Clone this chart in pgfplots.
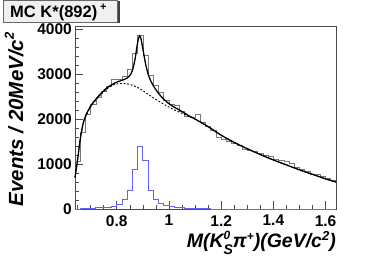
\documentclass[border=0pt]{standalone}
\usepackage{fontspec}
\setmainfont{Liberation Sans}
\usepackage{pgfplots}
\pgfplotsset{compat=1.18}
\definecolor{histblue}{RGB}{100,100,245}
\definecolor{histgray}{RGB}{120,120,120}
\begin{document}
\begin{tikzpicture}
\path[use as bounding box] (0,0) rectangle (374pt,262pt);
% title box
\fill[black!75] (4.5pt,238.5pt) rectangle (119.5pt,260.5pt);
\draw[black!60,fill=white!94!black,line width=0.6pt] (3pt,240pt) rectangle (117.5pt,261.7pt);
\node[anchor=base west,inner sep=0pt,font=\fontsize{16.5}{17}\selectfont\bfseries] at (10pt,244pt) {MC K*(892)\,\raisebox{0.45em}{\fontsize{11}{11}\selectfont +}};
\begin{axis}[
  at={(75pt,53pt)}, anchor=south west,
  scale only axis, width=261pt, height=183pt,
  xmin=0.64, xmax=1.64, ymin=0, ymax=4067,
  axis line style={black!70, line width=0.6pt},
  xtick={0.8,1,1.2,1.4,1.6}, xticklabels={0.8,1,1.2,1.4,1.6},
  minor xtick={0.65,0.7,0.75,0.85,0.9,0.95,1.05,1.1,1.15,1.25,1.3,1.35,1.45,1.5,1.55},
  ytick={0,1000,2000,3000,4000}, yticklabels={0,1000,2000,3000,4000},
  minor y tick num=4,
  xtick pos=bottom, ytick pos=left,
  tick align=inside,
  major tick length=8pt, minor tick length=4pt,
  tick style={black!70, line width=0.6pt},
  /pgf/number format/assume math mode=true,
  ticklabel style={font=\fontsize{15.5}{16}\selectfont\bfseries},
  xticklabel style={inner sep=0pt, yshift=-6pt},
  yticklabel style={inner sep=0pt, xshift=-3pt},
  every axis x label/.style={at={(axis description cs:1,-0.21)},anchor=base east,inner sep=0pt},
  every axis y label/.style={at={(axis description cs:-0.199,0.49)},rotate=90,anchor=base,inner sep=0pt},
  x label style={font=\fontsize{19.5}{20}\selectfont\bfseries\itshape},
  y label style={font=\fontsize{20.5}{20}\selectfont\bfseries\itshape},
  xlabel={M(K\rlap{\raisebox{0.42em}{\fontsize{12}{12}\selectfont 0}}\raisebox{-0.35em}{\fontsize{14}{14}\selectfont S}π\raisebox{0.38em}{\fontsize{12}{12}\selectfont +})(GeV/c\raisebox{0.38em}{\fontsize{13}{13}\selectfont 2})},
  ylabel={Events / 20MeV/c\raisebox{0.45em}{\fontsize{13}{13}\selectfont 2}},
  clip=false,
]
% signal MC (blue)
\addplot[histblue, line width=0.8pt, const plot mark left] coordinates {
(0.64,0) (0.66,10) (0.68,15) (0.70,20) (0.72,25) (0.74,30) (0.76,45) (0.78,65)
(0.80,105) (0.82,215) (0.84,405) (0.86,870) (0.88,1400) (0.90,1090) (0.92,420)
(0.94,220) (0.96,125) (0.98,75) (1.00,50) (1.02,35) (1.04,25) (1.06,15) (1.08,10)
(1.10,8) (1.12,5) (1.14,3) (1.16,2) (1.18,0) (1.64,0)
};
% data histogram (gray)
\addplot[histgray, line width=0.6pt, const plot mark left] coordinates {
(0.64,1050) (0.66,1700) (0.68,2100) (0.70,2330) (0.72,2480) (0.74,2620) (0.76,2720)
(0.78,2880) (0.80,2880) (0.82,2940) (0.84,3100) (0.86,3470) (0.88,3850) (0.90,3420)
(0.92,2980) (0.94,2750) (0.96,2600) (0.98,2420) (1.00,2320) (1.02,2300) (1.04,2170)
(1.06,2060) (1.08,2030) (1.10,2110) (1.12,1930) (1.14,1840) (1.16,1750) (1.18,1600)
(1.20,1560) (1.22,1500) (1.24,1470) (1.26,1420) (1.28,1330) (1.30,1310) (1.32,1280)
(1.34,1230) (1.36,1190) (1.38,1180) (1.40,1100) (1.42,1080) (1.44,1060) (1.46,1010)
(1.48,930) (1.50,880) (1.52,830) (1.54,770) (1.56,770) (1.58,720) (1.60,680)
(1.62,630) (1.64,630)
};
% background (dashed)
\addplot[black, line width=0.9pt, dash pattern=on 1.8pt off 1.8pt, smooth] coordinates {
(0.64,700) (0.65,1100) (0.66,1540) (0.67,1860) (0.68,2040) (0.70,2270) (0.72,2420)
(0.74,2550) (0.76,2660) (0.78,2740) (0.80,2780) (0.82,2790) (0.84,2780) (0.86,2750)
(0.88,2700) (0.90,2630) (0.92,2550) (0.94,2470) (0.96,2400) (0.98,2330) (1.00,2265)
(1.02,2205) (1.04,2150) (1.06,2100) (1.08,2050) (1.10,1995) (1.15,1830) (1.20,1640)
(1.25,1480) (1.30,1340) (1.35,1210) (1.40,1090) (1.45,980) (1.50,870) (1.55,770)
(1.60,670) (1.64,600)
};
% total fit (solid)
\addplot[black, line width=1.3pt, smooth] coordinates {
(0.64,700) (0.65,1100) (0.66,1550) (0.67,1870) (0.68,2060) (0.70,2290) (0.72,2440)
(0.74,2570) (0.76,2680) (0.78,2760) (0.80,2820) (0.82,2860) (0.84,2910) (0.85,2965)
(0.86,3080) (0.87,3330) (0.88,3700) (0.887,3850) (0.893,3780) (0.90,3560) (0.91,3240)
(0.92,3000) (0.93,2850) (0.94,2740) (0.96,2570) (0.98,2440) (1.00,2340) (1.02,2265)
(1.04,2200) (1.06,2130) (1.08,2060) (1.10,2000) (1.15,1830) (1.20,1640) (1.25,1480)
(1.30,1340) (1.35,1210) (1.40,1090) (1.45,980) (1.50,870) (1.55,770) (1.60,670) (1.64,600)
};
\end{axis}
\end{tikzpicture}
\end{document}
